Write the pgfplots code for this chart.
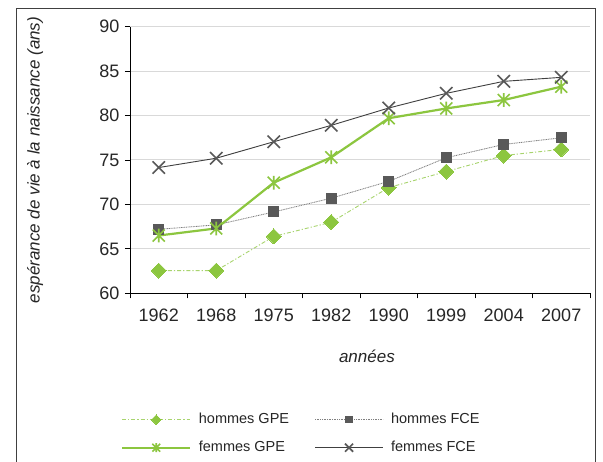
\documentclass[border=0pt]{standalone}
\usepackage{pgfplots}
\pgfplotsset{compat=1.18}
\usepackage{fontspec}
\setmainfont{Liberation Sans}
\definecolor{vert}{HTML}{8CC63F}
\definecolor{vertclair}{HTML}{A8D46E}
\definecolor{grisf}{HTML}{595959}
\definecolor{grisl}{HTML}{404040}
\definecolor{grisp}{HTML}{7F7F7F}
\definecolor{grille}{HTML}{D9D9D9}
\definecolor{texte}{HTML}{262626}
\pgfdeclareplotmark{xstar}{%
  \pgfpathmoveto{\pgfqpoint{-\pgfplotmarksize}{-\pgfplotmarksize}}%
  \pgfpathlineto{\pgfqpoint{\pgfplotmarksize}{\pgfplotmarksize}}%
  \pgfpathmoveto{\pgfqpoint{-\pgfplotmarksize}{\pgfplotmarksize}}%
  \pgfpathlineto{\pgfqpoint{\pgfplotmarksize}{-\pgfplotmarksize}}%
  \pgfpathmoveto{\pgfqpoint{0pt}{-1.15\pgfplotmarksize}}%
  \pgfpathlineto{\pgfqpoint{0pt}{1.15\pgfplotmarksize}}%
  \pgfusepathqstroke}
\pgfdeclareplotmark{bigx}{%
  \pgfpathmoveto{\pgfqpoint{-\pgfplotmarksize}{-\pgfplotmarksize}}%
  \pgfpathlineto{\pgfqpoint{\pgfplotmarksize}{\pgfplotmarksize}}%
  \pgfpathmoveto{\pgfqpoint{-\pgfplotmarksize}{\pgfplotmarksize}}%
  \pgfpathlineto{\pgfqpoint{\pgfplotmarksize}{-\pgfplotmarksize}}%
  \pgfusepathqstroke}
\begin{document}
\begin{tikzpicture}[x=1pt,y=1pt]
\useasboundingbox (0,0) rectangle (603,462);
\clip (0,0) rectangle (603,462);
\fill[white] (0,0) rectangle (603,462);
\draw[grisl, line width=1pt] (16,-5) -- (16,453) -- (595,453) -- (595,-5);
\begin{axis}[
  at={(130pt,168.7pt)}, anchor=south west,
  width=460pt, height=266.6pt, scale only axis,
  xmin=-0.5, xmax=7.5, ymin=60, ymax=90,
  axis lines*=left, axis line style={-, black, line width=0.9pt},
  ytick={60,65,...,90},
  xtick={0,...,7},
  xticklabels={1962,1968,1975,1982,1990,1999,2004,2007},
  minor xtick={-0.5,0.5,...,7.5},
  major x tick style={draw=none},
  minor x tick style={black, line width=0.8pt},
  ytick style={black, line width=0.8pt},
  tick align=outside, major tick length=5pt, minor tick length=5pt,
  ymajorgrids, grid style={grille, line width=1pt},
  /pgf/number format/assume math mode=true,
  ticklabel style={font=\fontsize{18}{18}\selectfont, text=texte},
  yticklabel style={xshift=-2pt},
  xticklabel style={yshift=-7pt},
  xlabel={années}, ylabel={espérance de vie à la naissance (ans)},
  label style={font=\itshape\fontsize{17}{17}\selectfont, text=texte},
  xlabel style={at={(axis description cs:0.515,-0.235)}, anchor=center},
  ylabel style={at={(axis description cs:-0.2065,0.5)}, anchor=center},
  legend columns=2,
  legend cell align=left,
  legend style={draw=none, fill=none, inner sep=0pt, anchor=north west,
    at={(axis description cs:-0.0196,-0.4415)},
    font=\fontsize{14.5}{14.5}\selectfont, text=texte,
    nodes={inner sep=1.5pt, text height=11pt, text depth=3pt},
    row sep=11pt,
    /tikz/every odd column/.append style={column sep=6pt},
    /tikz/every even column/.append style={column sep=24pt}},
  legend image code/.code={\draw[#1, every mark/.append style={scale=0.65}, mark repeat=2, mark phase=2] plot coordinates {(0pt,0pt) (34pt,0pt) (68pt,0pt)};},
]
\addplot[vertclair, line width=0.9pt, dash pattern=on 4pt off 2pt on 1.2pt off 2pt,
  mark=square*, mark size=5.3pt, mark options={solid, fill=vert, draw=vert, rotate=45, line width=0pt}]
  coordinates {(0,62.55) (1,62.55) (2,66.4) (3,68.0) (4,71.9) (5,73.7) (6,75.5) (7,76.2)};
\addlegendentry{hommes GPE}
\addplot[grisp, line width=0.8pt, dash pattern=on 1pt off 0.7pt,
  mark=square*, mark size=5pt, mark options={solid, fill=grisf, draw=grisf, line width=0pt}]
  coordinates {(0,67.2) (1,67.7) (2,69.15) (3,70.7) (4,72.6) (5,75.25) (6,76.75) (7,77.5)};
\addlegendentry{hommes FCE}
\addplot[vert, line width=2.2pt,
  mark=xstar, mark size=6pt, mark options={solid, draw=vert, line width=1.6pt}]
  coordinates {(0,66.5) (1,67.3) (2,72.45) (3,75.3) (4,79.7) (5,80.8) (6,81.75) (7,83.25)};
\addlegendentry{femmes GPE}
\addplot[grisl, line width=0.9pt,
  mark=bigx, mark size=6.2pt, mark options={solid, draw=grisf, line width=1.6pt}]
  coordinates {(0,74.15) (1,75.2) (2,77.05) (3,78.9) (4,80.85) (5,82.5) (6,83.85) (7,84.3)};
\addlegendentry{femmes FCE}
\end{axis}
\end{tikzpicture}
\end{document}
